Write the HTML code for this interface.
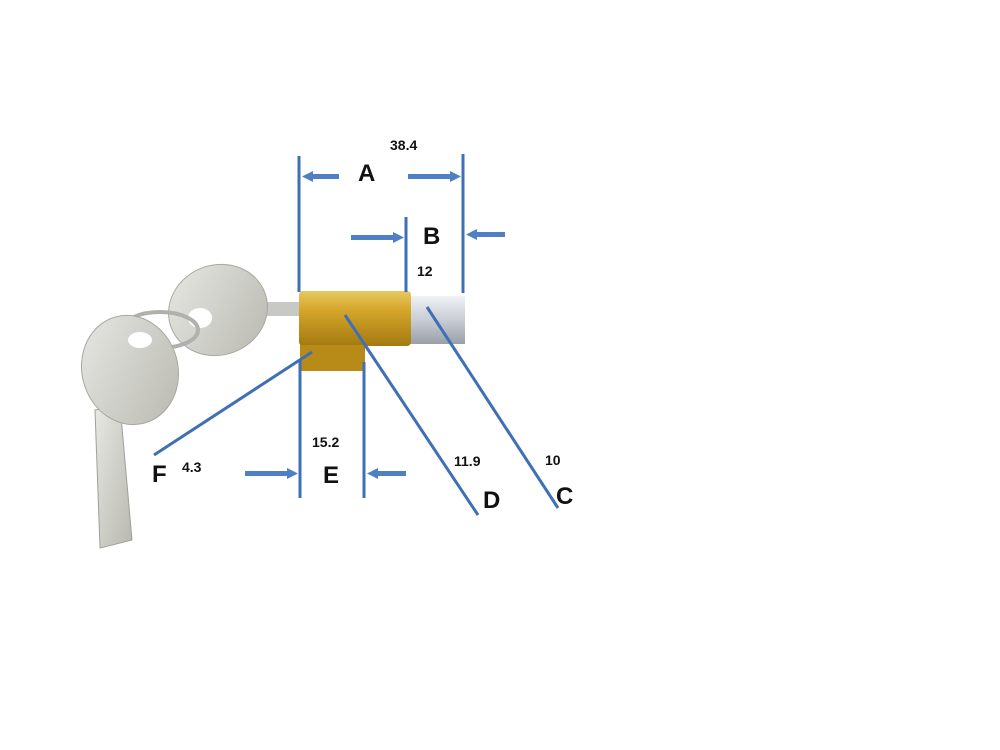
<!DOCTYPE html>
<html><head><style>html,body{margin:0;padding:0;background:#fff;}svg{display:block}</style></head>
<body>
<svg width="1000" height="750" viewBox="0 0 1000 750" xmlns="http://www.w3.org/2000/svg" font-family="Liberation Sans, sans-serif">
<defs>
<linearGradient id="brass" x1="0" y1="0" x2="0" y2="1">
<stop offset="0" stop-color="#e8c860"/><stop offset="0.35" stop-color="#d4a62a"/><stop offset="1" stop-color="#a47a10"/></linearGradient>
<linearGradient id="steel" x1="0" y1="0" x2="0" y2="1">
<stop offset="0" stop-color="#f0f2f6"/><stop offset="0.5" stop-color="#c8ccd4"/><stop offset="1" stop-color="#9aa0a8"/></linearGradient>
<linearGradient id="key" x1="0" y1="0" x2="1" y2="1">
<stop offset="0" stop-color="#e8e8e4"/><stop offset="1" stop-color="#b8b8b0"/></linearGradient>
</defs>
<rect x="240" y="302" width="65" height="14" fill="#c8c8c4"/>
<ellipse cx="218" cy="310" rx="50" ry="45" transform="rotate(-20 218 310)" fill="url(#key)" stroke="#a8a8a0"/>
<ellipse cx="200" cy="318" rx="12" ry="10" fill="#fff"/>
<ellipse cx="160" cy="330" rx="38" ry="18" fill="none" stroke="#b0b0ac" stroke-width="4"/>
<path d="M95 410 L120 405 L132 540 L100 548 Z" fill="url(#key)" stroke="#a0a098"/>
<ellipse cx="130" cy="370" rx="48" ry="55" transform="rotate(-15 130 370)" fill="url(#key)" stroke="#a8a8a0"/>
<ellipse cx="140" cy="340" rx="12" ry="8" fill="#fff"/>
<rect x="410" y="296" width="55" height="48" fill="url(#steel)"/>
<rect x="299" y="291" width="112" height="55" rx="4" fill="url(#brass)"/>
<rect x="300" y="345" width="65" height="26" fill="#b88a18"/>
<g stroke="#3f6fb5" stroke-width="3" fill="none">
<line x1="299" y1="156" x2="299" y2="292"/>
<line x1="463" y1="154" x2="463" y2="293"/>
<line x1="406" y1="217" x2="406" y2="292"/>
<line x1="300" y1="361" x2="300" y2="498"/>
<line x1="364" y1="362" x2="364" y2="498"/>
<line x1="154" y1="455" x2="312" y2="352"/>
<line x1="345" y1="315" x2="478" y2="515"/>
<line x1="427" y1="307" x2="558" y2="508"/>
</g>
<g fill="#4f7fc5">
<rect x="312" y="174" width="27" height="5"/><path d="M302 176.5 L313 171 L313 182 Z"/>
<rect x="408" y="174" width="43" height="5"/><path d="M461 176.5 L450 171 L450 182 Z"/>
<rect x="351" y="235" width="42" height="5"/><path d="M404 237.5 L393 232 L393 243 Z"/>
<rect x="476" y="232" width="29" height="5"/><path d="M466 234.5 L477 229 L477 240 Z"/>
<rect x="245" y="471" width="42" height="5"/><path d="M298 473.5 L287 468 L287 479 Z"/>
<rect x="377" y="471" width="29" height="5"/><path d="M367 473.5 L378 468 L378 479 Z"/>
</g>
<g fill="#111" font-weight="bold">
<text x="358" y="181" font-size="24">A</text>
<text x="423" y="244" font-size="24">B</text>
<text x="323" y="483" font-size="24">E</text>
<text x="152" y="482" font-size="24">F</text>
<text x="483" y="508" font-size="24">D</text>
<text x="556" y="504" font-size="24">C</text>
</g>
<g fill="#111" font-size="14" font-weight="bold">
<text x="390" y="150">38.4</text>
<text x="417" y="276">12</text>
<text x="312" y="447">15.2</text>
<text x="182" y="472">4.3</text>
<text x="454" y="466">11.9</text>
<text x="545" y="465">10</text>
</g>
</svg>
</body></html>
